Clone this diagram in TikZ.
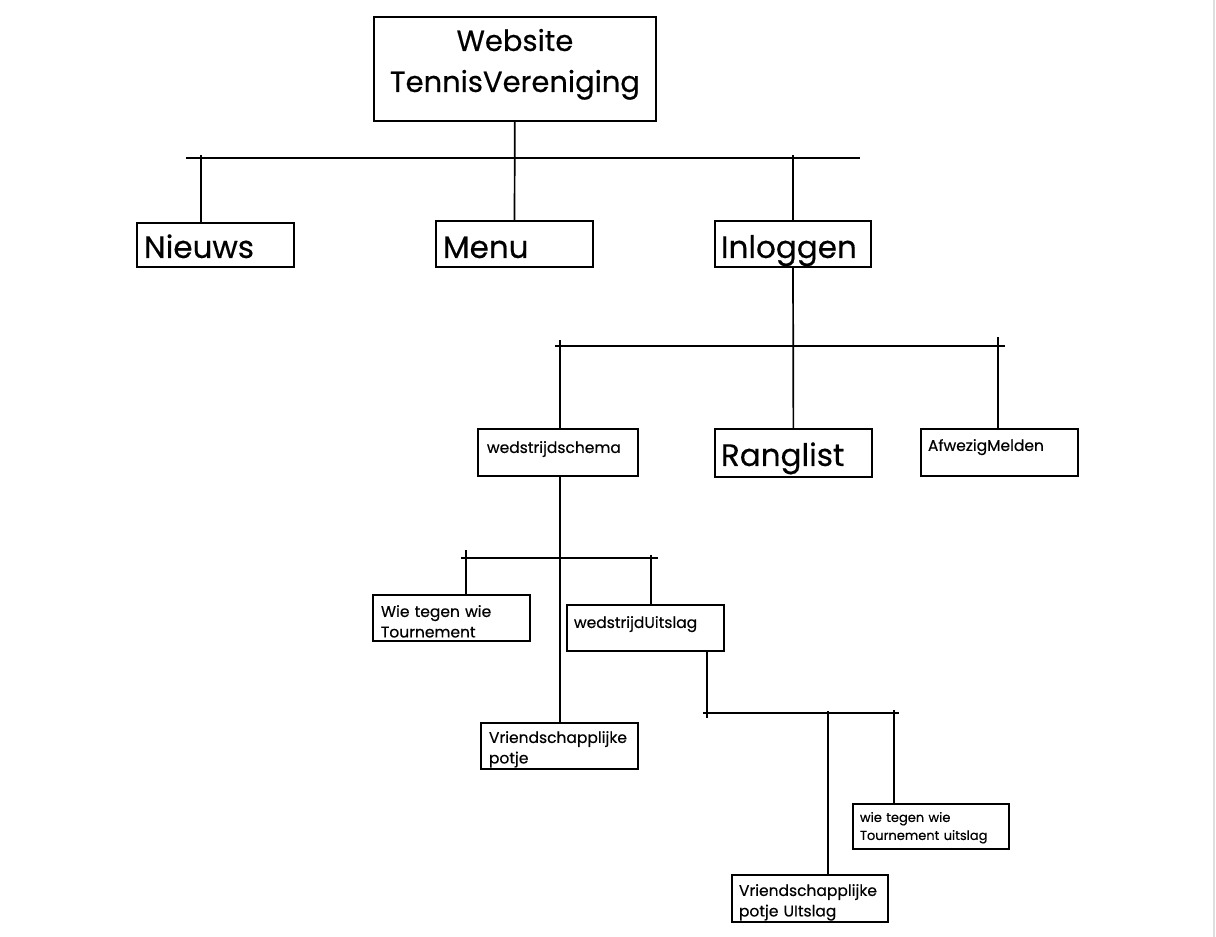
\documentclass[tikz,border=0pt]{standalone}
\usepackage{fontspec}
\setmainfont{Poppins}[FakeBold=0.4]
\tikzset{
  blok/.style={draw,line width=1.9pt,anchor=north west,inner ysep=0pt,align=left,fill=white},
  maat/.style n args={4}{text width=#1pt,inner xsep=#2pt,text height=#3pt,text depth=#4pt},
  kop/.style={font=\fontsize{29}{41}\selectfont},
  groot/.style={font=\fontsize{31}{38}\selectfont},
  klein/.style={font=\fontsize{15.5}{20.5}\selectfont},
  mini/.style={font=\fontsize{13}{18}\selectfont},
  lijn/.style={line width=1.7pt}
}
\begin{document}
\begin{tikzpicture}[x=1pt,y=-1pt]
\useasboundingbox[fill=white] (0,0) rectangle (1216,937);
\draw[line width=2pt,black!13] (1214,0) -- (1214,937);

\node[blok,kop,align=center,maat={274}{4}{34}{70}] (root) at (373,16) {Website\\TennisVereniging};
\node[blok,groot,maat={143}{7}{35}{9}] (nieuws) at (136,222) {Nieuws};
\node[blok,groot,maat={143}{7}{37}{9}] (menu) at (435,220) {Menu};
\node[blok,groot,maat={144}{6}{37}{9}] (inloggen) at (714,220) {Inloggen};
\node[blok,klein,maat={142}{9}{24}{23}] (schema) at (477,428) {wedstrijdschema};
\node[blok,groot,maat={145}{6}{37}{11}] (rang) at (714,428) {Ranglist};
\node[blok,klein,maat={143}{7}{22}{25}] (afwezig) at (920,428) {AfwezigMelden};
\node[blok,klein,maat={141}{8}{22}{24}] (wtw) at (372,594) {Wie tegen wie\\Tournement};
\node[blok,klein,maat={143}{7}{23}{23}] (uitslag) at (566,604) {wedstrijdUitslag};
\node[blok,klein,maat={141}{8}{20}{26}] (potje) at (480,722) {Vriendschapplijke\\potje};
\node[blok,mini,maat={142}{7}{18}{27}] (wtwu) at (852,803) {wie tegen wie\\Tournement uitslag};
\node[blok,klein,maat={142}{7}{21}{26}] (potjeu) at (731,874) {Vriendschapplijke\\potje UItslag};

\coordinate (b1w) at (186,158); \coordinate (b1e) at (860,158);
\coordinate (n1) at (201,155); \coordinate (i1) at (793,155);
\coordinate (b2w) at (555,346); \coordinate (b2e) at (1005,346);
\coordinate (w1) at (560,340); \coordinate (a1) at (998,337);
\coordinate (b3w) at (461,558); \coordinate (b3e) at (658,558);
\coordinate (t2) at (466,550); \coordinate (u1) at (651,555);
\coordinate (d1) at (707,718);
\coordinate (b4w) at (703,713); \coordinate (b4e) at (899,713);
\coordinate (v1) at (828,711); \coordinate (t3) at (894,710);

\draw[lijn] (root) -- (menu);
\draw[lijn] (b1w) -- (b1e);
\draw[lijn] (nieuws.north -| n1) -- (n1);
\draw[lijn] (inloggen.north -| i1) -- (i1);
\draw[lijn] (inloggen) -- (rang);
\draw[lijn] (b2w) -- (b2e);
\draw[lijn] (schema.north -| w1) -- (w1);
\draw[lijn] (afwezig.north -| a1) -- (a1);
\draw[lijn] (schema.south -| w1) -- (potje.north -| w1);
\draw[lijn] (b3w) -- (b3e);
\draw[lijn] (wtw.north -| t2) -- (t2);
\draw[lijn] (uitslag.north -| u1) -- (u1);
\draw[lijn] (uitslag.south -| d1) -- (d1);
\draw[lijn] (b4w) -- (b4e);
\draw[lijn] (potjeu.north -| v1) -- (v1);
\draw[lijn] (wtwu.north -| t3) -- (t3);
\end{tikzpicture}
\end{document}
